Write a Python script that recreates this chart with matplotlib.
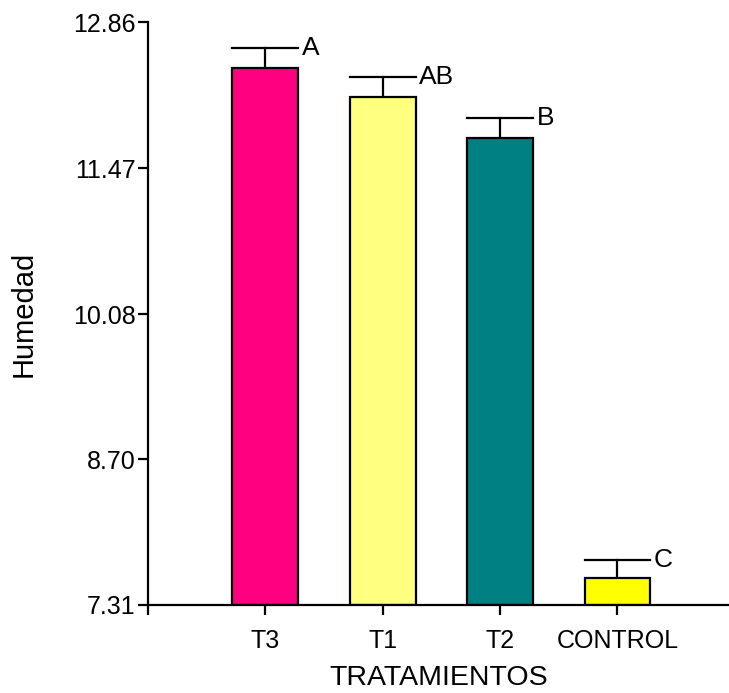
import matplotlib
matplotlib.use("Agg")
import matplotlib.pyplot as plt

categories = ["T3", "T1", "T2", "CONTROL"]
means = [12.42, 12.15, 11.76, 7.57]
errors = [0.19, 0.19, 0.19, 0.17]
letters = ["A", "AB", "B", "C"]
colors = ["#FF0080", "#FFFF80", "#008080", "#FFFF00"]
yticks = [7.31, 8.70, 10.08, 11.47, 12.86]

plt.rcParams['font.family'] = ['Liberation Sans', 'DejaVu Sans']

fig = plt.figure(figsize=(7.29, 6.93), dpi=100)
ax = fig.add_axes([0.203, 0.127, 0.797, 0.841])

x = [1, 2, 3, 4]
bw = 0.56
base = yticks[0]
heights = [m - base for m in means]
ax.bar(x, heights, bottom=base, width=bw, color=colors, edgecolor="black", linewidth=1.6, zorder=2)
for xi, m, e, lt in zip(x, means, errors, letters):
    ax.plot([xi, xi], [m, m + e], color="black", lw=1.6, zorder=1)
    ax.plot([xi - bw / 2, xi + bw / 2], [m + e, m + e], color="black", lw=1.6, zorder=1)
    ax.text(xi + bw / 2 + 0.03, m + e, lt, ha="left", va="center", fontsize=19)

ax.set_xlim(0, 4.95)
ax.set_ylim(yticks[0], yticks[-1])
ax.set_yticks(yticks)
ax.set_yticklabels([f"{v:.2f}" for v in yticks], fontsize=18)
ax.set_xticks(x)
ax.set_xticklabels(categories, fontsize=18)
ax.set_xticks([0], minor=True)
ax.tick_params(axis="both", which="both", direction="out", length=7, width=1.6, pad=2)
ax.tick_params(axis="x", pad=10)
for s in ["top", "right"]:
    ax.spines[s].set_visible(False)
for s in ["left", "bottom"]:
    ax.spines[s].set_linewidth(1.6)
ax.set_ylabel("Humedad", fontsize=21, labelpad=25)
ax.set_xlabel("TRATAMIENTOS", fontsize=20.5, labelpad=9)

fig.savefig("out.png", dpi=100)
